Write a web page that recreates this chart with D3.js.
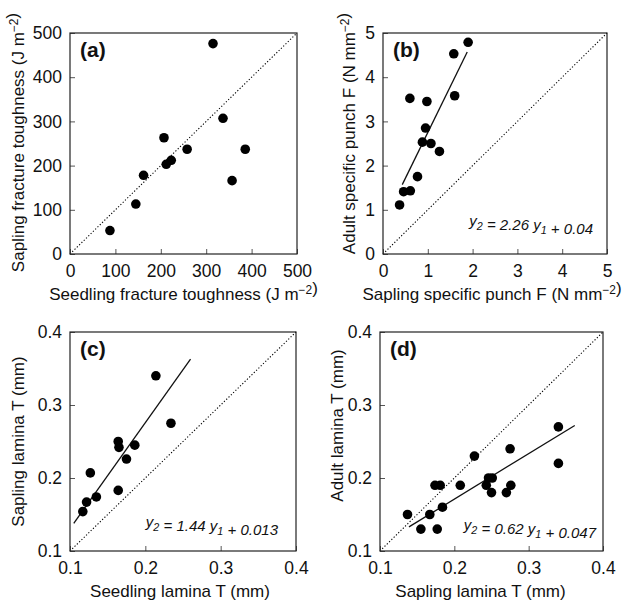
<!DOCTYPE html>
<html>
<head>
<meta charset="utf-8">
<script src="https://cdn.jsdelivr.net/npm/d3@7"></script>
<style>
  body { margin: 0; background: #fff; }
  text { font-family: "Liberation Sans", Arial, Helvetica, sans-serif; fill: #111; }
</style>
</head>
<body>
<div id="chart"></div>
<script>
// (a) fracture toughness, seedling vs sapling (J m-2)
const toughSeedling = [88, 145, 162, 207, 212, 223, 258, 315, 337, 386, 357];
const toughSapling  = [53, 113, 178, 263, 203, 212, 237, 476, 307, 237, 166];

// (b) specific punch force, sapling vs adult (N mm-2)
const punchSapling = [0.37, 0.46, 0.61, 0.77, 0.88, 1.07, 1.26, 0.95, 0.98, 0.60, 1.60, 1.58, 1.90];
const punchAdult   = [1.11, 1.41, 1.43, 1.75, 2.53, 2.50, 2.32, 2.85, 3.45, 3.52, 3.58, 4.53, 4.79];
const punchFitX = [0.43, 1.88];
const punchFitY = [1.57, 4.57];

// (c) lamina thickness, seedling vs sapling (mm)
const laminaSeedling = [0.117, 0.122, 0.127, 0.135, 0.164, 0.164, 0.165, 0.175, 0.186, 0.214, 0.234];
const laminaSaplingC = [0.154, 0.167, 0.207, 0.174, 0.183, 0.250, 0.242, 0.226, 0.245, 0.340, 0.275];
const laminaFitCX = [0.105, 0.26];
const laminaFitCY = [0.138, 0.363];

// (d) lamina thickness, sapling vs adult (mm)
const laminaSaplingD = [0.137, 0.155, 0.167, 0.177, 0.174, 0.181, 0.184, 0.208, 0.227, 0.243,
                        0.246, 0.251, 0.250, 0.270, 0.276, 0.275, 0.340, 0.340];
const laminaAdult    = [0.15, 0.13, 0.15, 0.13, 0.19, 0.19, 0.16, 0.19, 0.23, 0.19,
                        0.20, 0.20, 0.18, 0.18, 0.19, 0.24, 0.27, 0.22];
const laminaFitDX = [0.139, 0.362];
const laminaFitDY = [0.133, 0.272];

// tick values
const toughTicks = [0, 100, 200, 300, 400, 500];
const punchTicks = [0, 1, 2, 3, 4, 5];
const laminaTicks = [0.1, 0.2, 0.3, 0.4];

// panel layout (pixel boxes and label placement)
const panels = [
  { tag: '(a)', x: toughSeedling, y: toughSapling, fitX: null, fitY: null,
    domain: [0, 500], ticks: toughTicks, fmt: d3.format('d'),
    box: {left: 70, top: 33, width: 227, height: 221},
    xTitle: [['Seedling fracture toughness (J m'], ['\u22122', 'sup'], [')']],
    yTitle: [['Sapling fracture toughness (J m'], ['\u22122', 'sup'], [')']],
    xTitleDx: 0, yTitleOff: 46, yTitleDy: -1, eq: null },
  { tag: '(b)', x: punchSapling, y: punchAdult, fitX: punchFitX, fitY: punchFitY,
    domain: [0, 5], ticks: punchTicks, fmt: d3.format('d'),
    box: {left: 383, top: 33, width: 224, height: 221},
    xTitle: [['Sapling specific punch F (N mm'], ['\u22122', 'sup'], [')']],
    yTitle: [['Adult specific punch F (N mm'], ['\u22122', 'sup'], [')']],
    xTitleDx: -3, yTitleOff: 28, yTitleDy: -10,
    eq: {coef: '2.26', icpt: '0.04', right: 210, base: 193} },
  { tag: '(c)', x: laminaSeedling, y: laminaSaplingC, fitX: laminaFitCX, fitY: laminaFitCY,
    domain: [0.1, 0.4], ticks: laminaTicks, fmt: d3.format('.1f'),
    box: {left: 70, top: 332, width: 226, height: 219},
    xTitle: [['Seedling lamina T (mm)']],
    yTitle: [['Sapling lamina T (mm)']],
    xTitleDx: -3, yTitleOff: 46, yTitleDy: 0,
    eq: {coef: '1.44', icpt: '0.013', right: 208, base: 195} },
  { tag: '(d)', x: laminaSaplingD, y: laminaAdult, fitX: laminaFitDX, fitY: laminaFitDY,
    domain: [0.1, 0.4], ticks: laminaTicks, fmt: d3.format('.1f'),
    box: {left: 380, top: 332, width: 223, height: 219},
    xTitle: [['Sapling lamina T (mm)']],
    yTitle: [['Adult lamina T (mm)']],
    xTitleDx: -11, yTitleOff: 37, yTitleDy: -16,
    eq: {coef: '0.62', icpt: '0.047', right: 216, base: 198} }
];

const svg = d3.select('#chart').append('svg')
  .attr('width', 624)
  .attr('height', 600);

// writes text parts, with superscript / subscript pieces
function addParts(textSel, parts, size) {
  parts.forEach(p => {
    if (p[1] === 'sup') {
      textSel.append('tspan').attr('dy', -6).attr('font-size', size * 0.7).text(p[0]);
      textSel.append('tspan').attr('dy', 6).text('');
    } else if (p[1] === 'sub') {
      textSel.append('tspan').attr('dy', 4).attr('font-size', size * 0.72).text(p[0]);
      textSel.append('tspan').attr('dy', -4).text('');
    } else {
      textSel.append('tspan').text(p[0]);
    }
  });
}

panels.forEach(p => {
  const b = p.box;
  const g = svg.append('g').attr('transform', `translate(${b.left},${b.top})`);

  const x = d3.scaleLinear().domain(p.domain).range([0, b.width]);
  const y = d3.scaleLinear().domain(p.domain).range([b.height, 0]);

  // 1:1 line
  g.append('line')
    .attr('x1', x(p.domain[0])).attr('y1', y(p.domain[0]))
    .attr('x2', x(p.domain[1])).attr('y2', y(p.domain[1]))
    .attr('stroke', '#000')
    .attr('stroke-width', 1.1)
    .attr('stroke-dasharray', '1.2,2');

  // axes, ticks pointing inward
  const xAxis = g.append('g')
    .attr('transform', `translate(0,${b.height})`)
    .call(d3.axisBottom(x).tickValues(p.ticks).tickFormat(p.fmt).tickSizeInner(-5).tickSizeOuter(0).tickPadding(11));
  const yAxis = g.append('g')
    .call(d3.axisLeft(y).tickValues(p.ticks).tickFormat(p.fmt).tickSizeInner(-5).tickSizeOuter(0).tickPadding(8));
  [xAxis, yAxis].forEach(ax => {
    ax.select('.domain').remove();
    ax.attr('font-size', null).attr('font-family', null);
    ax.selectAll('line').attr('stroke', '#555');
    ax.selectAll('text').attr('font-size', 17.5).attr('fill', '#111');
  });

  // frame
  g.append('rect')
    .attr('width', b.width).attr('height', b.height)
    .attr('fill', 'none')
    .attr('stroke', '#222')
    .attr('stroke-width', 1.2);

  // regression line
  if (p.fitX) {
    g.append('line')
      .attr('x1', x(p.fitX[0])).attr('y1', y(p.fitY[0]))
      .attr('x2', x(p.fitX[1])).attr('y2', y(p.fitY[1]))
      .attr('stroke', '#111')
      .attr('stroke-width', 1.3);
  }

  // points
  g.selectAll('.dot')
    .data(p.x.map((d, i) => [d, p.y[i]]))
    .join('circle')
    .attr('class', 'dot')
    .attr('cx', d => x(d[0]))
    .attr('cy', d => y(d[1]))
    .attr('r', 4.8)
    .attr('fill', '#000');

  // panel tag
  g.append('text')
    .attr('x', 10).attr('y', 24)
    .attr('font-size', 21)
    .attr('font-weight', 'bold')
    .text(p.tag);

  // axis titles
  const xt = g.append('text')
    .attr('x', b.width / 2 + p.xTitleDx)
    .attr('y', b.height + 46)
    .attr('text-anchor', 'middle')
    .attr('font-size', 17);
  addParts(xt, p.xTitle, 17);

  const yt = g.append('text')
    .attr('transform', `translate(${-p.yTitleOff},${b.height / 2 + p.yTitleDy}) rotate(-90)`)
    .attr('text-anchor', 'middle')
    .attr('font-size', 17);
  addParts(yt, p.yTitle, 17);

  // regression equation
  if (p.eq) {
    const et = g.append('text')
      .attr('x', p.eq.right).attr('y', p.eq.base)
      .attr('text-anchor', 'end')
      .attr('font-size', 15)
      .attr('font-style', 'italic');
    addParts(et, [['y'], ['2', 'sub'], [' = ' + p.eq.coef + ' y'], ['1', 'sub'], ['  + ' + p.eq.icpt]], 15);
  }
});
</script>
</body>
</html>
